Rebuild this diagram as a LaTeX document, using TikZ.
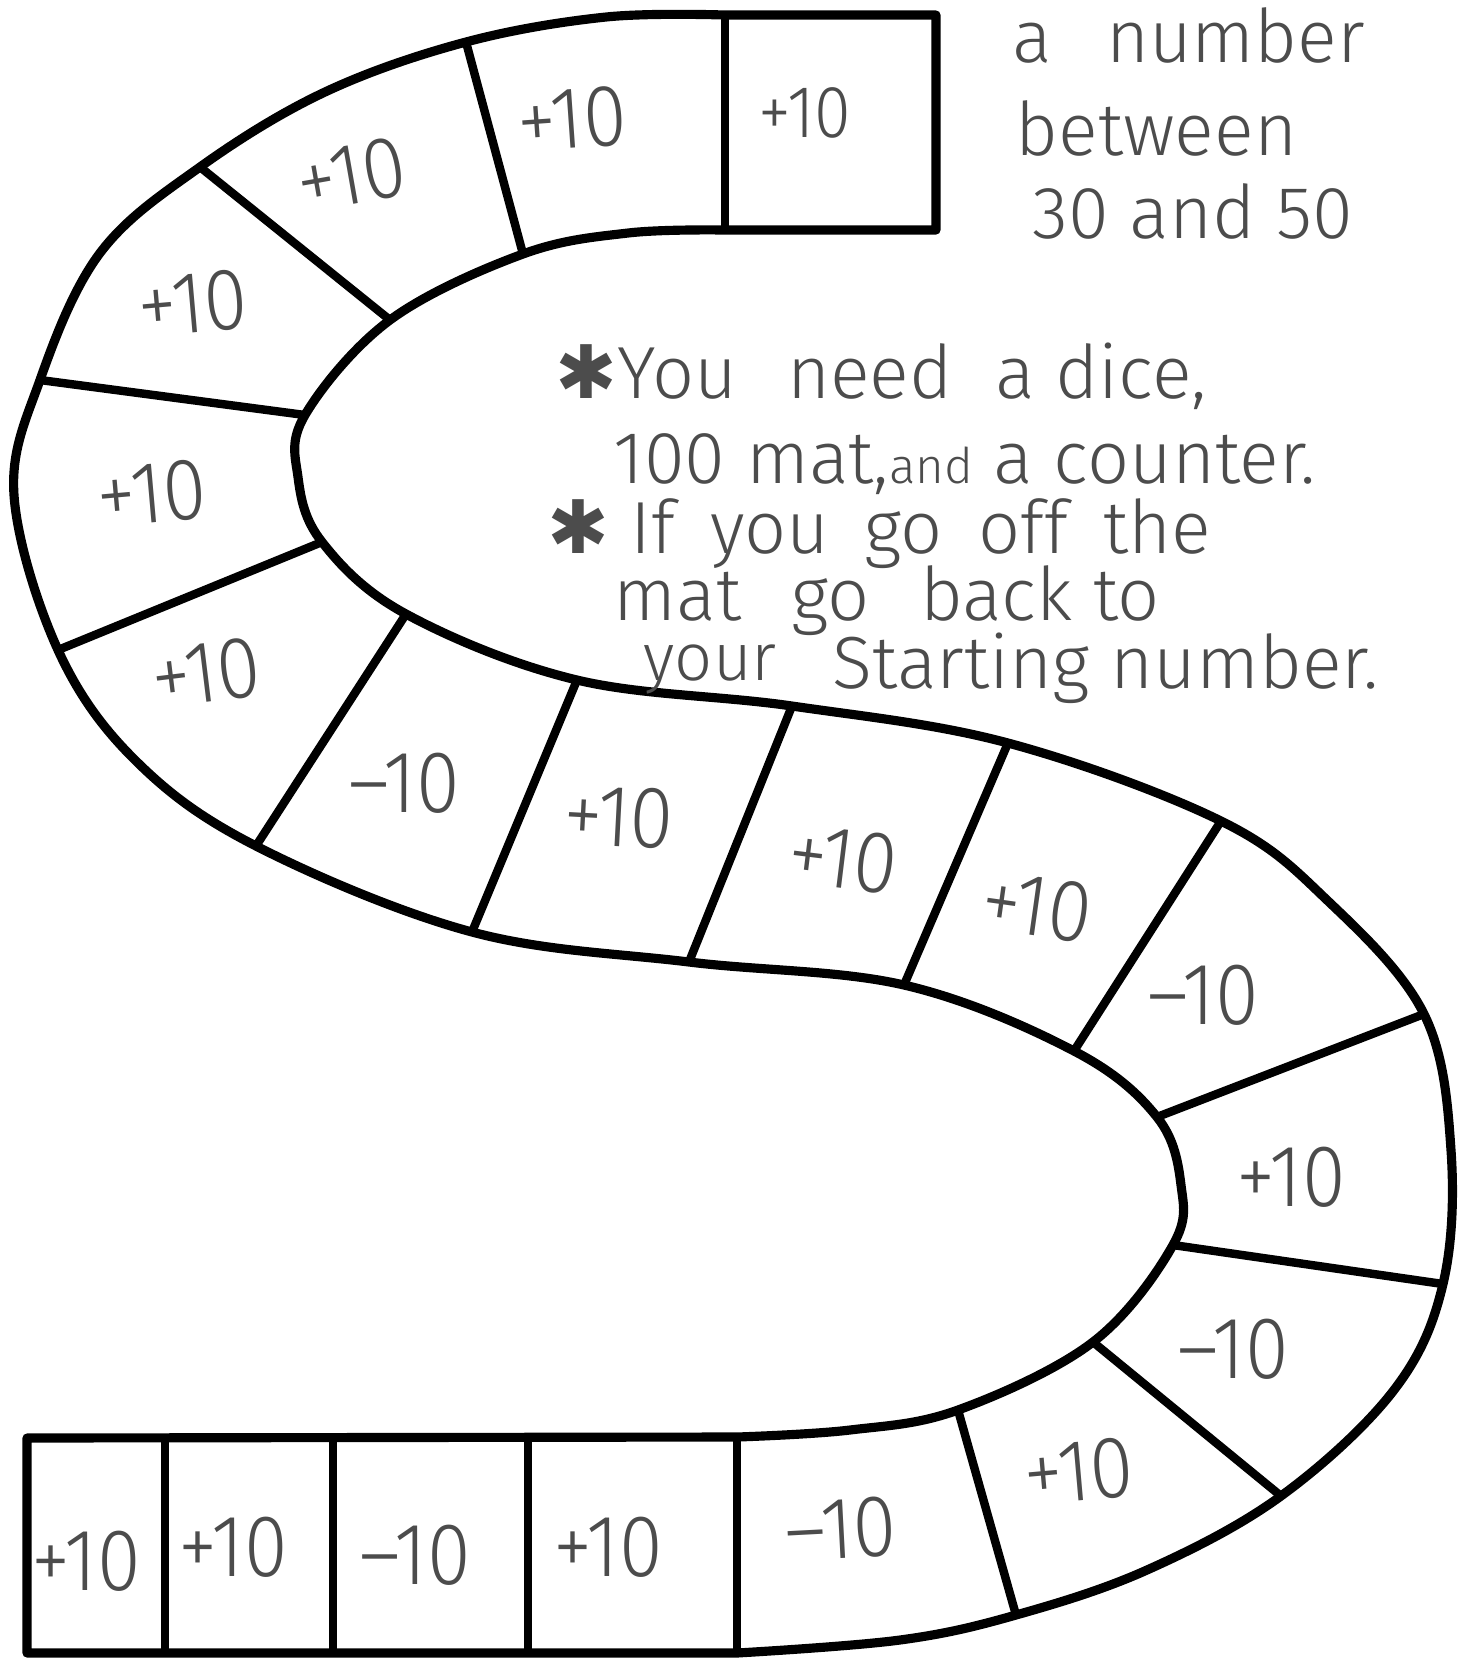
\documentclass[tikz,border=0pt]{standalone}
\usepackage{fontspec}
\usepackage{graphicx}
\setmainfont{Fira Sans}[UprightFont=* Light]
\newfontfamily\symfont{DejaVu Sans}
\usetikzlibrary{calc}
\definecolor{pencil}{gray}{0.3}
\newcommand{\cellfont}{\fontsize{25}{29}\selectfont}
\newcommand{\notefont}{\fontsize{21}{25}\selectfont}
\newcommand{\brdnum}[1]{\scalebox{0.9}[1]{#1}}
\tikzset{
  brdline/.style={line width=2.6pt, line join=round},
  brdsep/.style={line width=2.4pt},
  brdcell/.style={font=\cellfont, text=pencil, inner sep=0pt},
  brdnote/.style={font=\notefont, text=pencil, inner sep=0pt, anchor=base west},
}

\begin{document}
\begin{tikzpicture}[x=0.01cm, y=-0.01cm]
  \useasboundingbox (0,0) rectangle (1458,1659);

  % Ecken der Rechtecke
  \coordinate (tr1) at (936,15);
  \coordinate (tr2) at (936,230);
  \coordinate (bl1) at (27,1438);
  \coordinate (bl2) at (27,1653);

  % Rand A (oben außen, unten innen)
  \coordinate (a0) at (725,15);
  \coordinate (a1) at (606,17);
  \coordinate (a2) at (466,42);
  \coordinate (a3) at (325,92);
  \coordinate (a4) at (200,167);
  \coordinate (a5) at (100,253);
  \coordinate (a6) at (40,380);
  \coordinate (a7) at (14,495);
  \coordinate (a8) at (58,650);
  \coordinate (a9) at (135,760);
  \coordinate (a10) at (256,846);
  \coordinate (a11) at (472,932);
  \coordinate (a12) at (689,962);
  \coordinate (a13) at (904,985);
  \coordinate (a14) at (1074,1051);
  \coordinate (a15) at (1157,1117);
  \coordinate (a16) at (1181,1185);
  \coordinate (a17) at (1173,1245);
  \coordinate (a18) at (1093,1342);
  \coordinate (a19) at (958,1410);
  \coordinate (a20) at (850,1430);
  \coordinate (a21) at (737,1437);

  % Rand B (oben innen, unten außen)
  \coordinate (b0) at (725,230);
  \coordinate (b1) at (628,233);
  \coordinate (b2) at (523,254);
  \coordinate (b3) at (390,320);
  \coordinate (b4) at (305,415);
  \coordinate (b5) at (298,477);
  \coordinate (b6) at (322,542);
  \coordinate (b7) at (406,614);
  \coordinate (b8) at (577,680);
  \coordinate (b9) at (792,706);
  \coordinate (b10) at (1008,743);
  \coordinate (b11) at (1221,821);
  \coordinate (b12) at (1328,901);
  \coordinate (b13) at (1424,1014);
  \coordinate (b14) at (1451,1150);
  \coordinate (b15) at (1443,1284);
  \coordinate (b16) at (1394,1390);
  \coordinate (b17) at (1281,1496);
  \coordinate (b18) at (1147,1570);
  \coordinate (b19) at (1016,1615);
  \coordinate (b20) at (900,1640);
  \coordinate (b21) at (737,1653);

  % Spielbahn
  \draw[brdline] (tr1) -- plot[smooth, tension=0.6] coordinates {(a0) (a1) (a2) (a3)
      (a4) (a5) (a6) (a7) (a8) (a9) (a10) (a11) (a12) (a13) (a14) (a15) (a16) (a17)
      (a18) (a19) (a20) (a21)}
    -- (bl1) -- (bl2)
    -- plot[smooth, tension=0.6] coordinates {(b21) (b20) (b19) (b18) (b17) (b16)
      (b15) (b14) (b13) (b12) (b11) (b10) (b9) (b8) (b7) (b6) (b5) (b4) (b3) (b2)
      (b1) (b0)}
    -- (tr2) -- cycle;

  % Trennlinien
  \foreach \i/\j in {0/0, 2/2, 4/3, 6/4, 8/6, 10/7, 11/8, 12/9, 13/10, 14/11,
                     15/13, 17/15, 18/17, 19/19, 21/21}
    \draw[brdsep] (a\i) -- (b\j);
  \foreach \x in {165, 333, 528}
    \draw[brdsep] (\x,1438) -- (\x,1653);

  % Felder
  \node[brdcell, font=\fontsize{21}{24}\selectfont] (c1) at (805,113) {\brdnum{+10}};
  \node[brdcell, rotate=4] (c2) at (572,119) {\brdnum{+10}};
  \node[brdcell, rotate=10] (c3) at (351,175) {\brdnum{+10}};
  \node[brdcell, rotate=5] (c4) at (193,303) {\brdnum{+10}};
  \node[brdcell, rotate=5] (c5) at (152,493) {\brdnum{+10}};
  \node[brdcell, rotate=7] (c6) at (206,673) {\brdnum{+10}};
  \node[brdcell] (c7) at (404,783) {\brdnum{--10}};
  \node[brdcell, rotate=-3] (c8) at (619,817) {\brdnum{+10}};
  \node[brdcell, rotate=-7] (c9) at (843,859) {\brdnum{+10}};
  \node[brdcell, rotate=-8] (c10) at (1037,907) {\brdnum{+10}};
  \node[brdcell] (c11) at (1203,995) {\brdnum{--10}};
  \node[brdcell] (c12) at (1291,1177) {\brdnum{+10}};
  \node[brdcell] (c13) at (1233,1349) {\brdnum{--10}};
  \node[brdcell, rotate=5] (c14) at (1079,1471) {\brdnum{+10}};
  \node[brdcell, rotate=3] (c15) at (841,1529) {\brdnum{--10}};
  \node[brdcell] (c16) at (608,1547) {\brdnum{+10}};
  \node[brdcell] (c17) at (415,1555) {\brdnum{--10}};
  \node[brdcell] (c18) at (233,1547) {\brdnum{+10}};
  \node[brdcell] (c19) at (86,1561) {\brdnum{+10}};

  % Texte
  \node[brdnote] (head1) at (1012,62) {a\hspace{0.45em} number};
  \node[brdnote] (head2) at (1015,155) {between};
  \node[brdnote] (head3) at (1032,238) {30 and 50};
  \node[brdnote] (note1) at (555,398) {{\symfont ✱}You\hspace{0.4em} need\hspace{0.3em} a dice,};
  \node[brdnote] (note2) at (613,483) {100 mat,{\fontsize{14}{17}\selectfont and} a counter.};
  \node[brdnote] (note3) at (547,553) {{\symfont ✱} If\hspace{0.2em} you\hspace{0.2em} go\hspace{0.2em} off\hspace{0.2em} the};
  \node[brdnote] (note4) at (613,620) {mat\hspace{0.4em} go\hspace{0.4em} back to};
  \node[brdnote, font=\fontsize{19}{23}\selectfont] (note5) at (643,680) {your};
  \node[brdnote] (note6) at (832,688) {Starting number.};
\end{tikzpicture}
\end{document}
